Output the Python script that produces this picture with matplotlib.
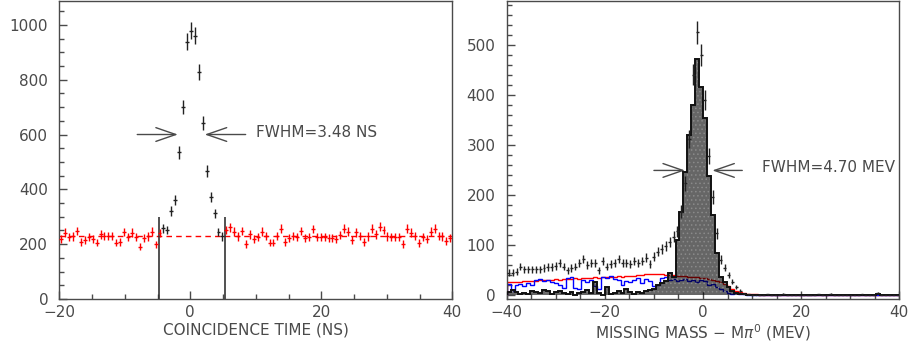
import numpy as np
import matplotlib
matplotlib.use('Agg')
from matplotlib import pyplot as plt
from matplotlib.ticker import MultipleLocator

# ---- left panel: coincidence time, 100 bins of 0.6 ns ----
time_range = (-20.0, 40.0)
time_nbins = 100
# red (accidental) points left of the timing window, bins 0..25
time_red_left = [218, 242, 225, 228, 248, 207, 216, 225, 218, 206,
                 236, 230, 230, 230, 206, 209, 245, 225, 242, 225,
                 191, 222, 228, 246, 199, 241]
# black points inside the window, bins 26..41
time_peak = [258, 252, 321, 362, 535, 701, 938, 979, 961, 828,
             641, 468, 372, 312, 244, 228]
# red points right of the window, bins 42..99
time_red_right = [252, 261, 246, 228, 248, 200, 236, 219, 225, 246,
                  231, 206, 206, 230, 256, 209, 222, 231, 227, 248,
                  222, 225, 255, 225, 225, 225, 222, 222, 219, 234,
                  256, 246, 216, 243, 231, 209, 228, 256, 236, 264,
                  252, 228, 225, 225, 225, 200, 256, 242, 231, 203,
                  225, 219, 246, 256, 230, 228, 213, 222]
time_bkg_level = 230
time_window = [-4.75, 5.35]
time_window_top = 300
time_fwhm_text = 'FWHM=3.48 NS'

# ---- right panel: missing mass, 100 bins of 0.8 MeV ----
mm_range = (-40.0, 40.0)
mm_nbins = 100
mm_data = [44, 44, 46, 56, 51, 51, 51, 51, 51, 53,
           55, 55, 57, 63, 56, 49, 53, 56, 63, 71,
           59, 64, 64, 49, 68, 56, 61, 64, 71, 64,
           64, 61, 68, 64, 68, 74, 62, 76, 86, 91,
           97, 106, 116, 127, 166, 223, 312, 441, 526, 480,
           391, 278, 195, 123, 70, 54, 39, 26, 16, 8,
           2, 1, 0, 0, 0, 0, 1, 0, 0, 0,
           2, 0, 0, 0, 0, 0, 0, 0, 0, 1,
           0, 0, 2, 0, 0, 0, 0, 0, 0, 0,
           1, 0, 0, 0, 3, 0, 0, 0, 0, 0]
mm_signal = [5, 9, 6, 2, 4, 2, 8, 6, 3, 9,
             7, 2, 5, 8, 3, 2, 6, 0, 3, 5,
             9, 3, 26, 4, 0, 15, 2, 3, 7, 4,
             11, 5, 2, 6, 4, 8, 9, 12, 20, 24,
             28, 44, 36, 110, 165, 245, 320, 380, 473, 416,
             354, 237, 160, 83, 36, 26, 16, 8, 4, 2,
             1, 0, 0, 0, 0, 0, 0, 0, 0, 0,
             0, 0, 0, 0, 0, 0, 0, 0, 0, 0,
             0, 0, 0, 0, 0, 0, 0, 0, 0, 0,
             0, 0, 0, 0, 2, 0, 0, 0, 0, 0]
mm_bkg_red = [25, 25, 26, 26, 27, 27, 28, 28, 29, 29,
              30, 30, 31, 30, 31, 32, 32, 33, 32, 33,
              34, 34, 35, 34, 35, 35, 36, 36, 37, 36,
              37, 38, 38, 39, 40, 41, 42, 42, 41, 41,
              40, 40, 39, 38, 37, 37, 36, 36, 35, 34,
              33, 32, 30, 28, 25, 21, 17, 12, 8, 5,
              3, 2, 1, 1, 0, 0, 0, 0, 0, 0,
              0, 0, 0, 0, 0, 0, 0, 0, 0, 0,
              0, 0, 0, 0, 0, 0, 0, 0, 0, 0,
              0, 0, 0, 0, 0, 0, 0, 0, 0, 0]
mm_bkg_blue = [22, 8, 20, 22, 18, 24, 20, 30, 32, 28,
               30, 26, 24, 20, 14, 34, 35, 14, 12, 30,
               26, 30, 18, 12, 36, 34, 38, 32, 30, 20,
               28, 26, 30, 34, 24, 32, 28, 18, 20, 34,
               36, 30, 32, 28, 30, 32, 28, 30, 26, 30,
               28, 20, 22, 16, 12, 8, 4, 2, 3, 1,
               1, 0, 0, 0, 0, 0, 0, 0, 0, 0,
               0, 0, 0, 0, 0, 0, 0, 0, 0, 0,
               0, 0, 0, 0, 0, 0, 0, 0, 0, 0,
               0, 0, 0, 0, 0, 0, 0, 0, 0, 0]
mm_fwhm_text = 'FWHM=4.70 MEV'

GREY = '#4a4a4a'
plt.rcParams['font.family'] = 'DejaVu Sans'
plt.rcParams['font.size'] = 11
plt.rcParams['text.color'] = GREY
plt.rcParams['axes.edgecolor'] = GREY
plt.rcParams['axes.labelcolor'] = GREY
plt.rcParams['xtick.color'] = GREY
plt.rcParams['ytick.color'] = GREY
plt.rcParams['hatch.color'] = '#8a8a8a'
plt.rcParams['hatch.linewidth'] = 0.6


def style_axes(ax, xmaj, xmin, ymaj, ymin):
    ax.xaxis.set_major_locator(MultipleLocator(xmaj))
    ax.xaxis.set_minor_locator(MultipleLocator(xmin))
    ax.yaxis.set_major_locator(MultipleLocator(ymaj))
    ax.yaxis.set_minor_locator(MultipleLocator(ymin))
    ax.tick_params(which='both', direction='in', top=False, right=False, width=1)
    ax.tick_params(which='major', length=6)
    ax.tick_params(which='minor', length=3.5)
    ax.tick_params(axis='x', pad=4)
    ax.tick_params(axis='y', pad=8)
    for sp in ax.spines.values():
        sp.set_linewidth(1)


def crosses(ax, x, y, half, color):
    y = np.asarray(y, dtype=float)
    ax.errorbar(x, y, xerr=half, yerr=np.sqrt(y), fmt='none',
                ecolor=color, elinewidth=1, capsize=0, zorder=5)


def fwhm_arrows(ax, y, left, right):
    kw = dict(arrowstyle='->,head_length=1.3,head_width=0.45', color=GREY,
              lw=1, shrinkA=0, shrinkB=0)
    ax.annotate('', xy=(left[1], y), xytext=(left[0], y), arrowprops=kw)
    ax.annotate('', xy=(right[1], y), xytext=(right[0], y), arrowprops=kw)


fig = plt.figure(figsize=(9.08, 3.44), dpi=100)

# ----- left panel -----
ax1 = fig.add_axes([59.3 / 908, 45 / 344, 393 / 908, 298 / 344])
t_edges = np.linspace(time_range[0], time_range[1], time_nbins + 1)
t_centers = 0.5 * (t_edges[1:] + t_edges[:-1])
n_left = len(time_red_left)
n_peak = len(time_peak)
crosses(ax1, t_centers[:n_left], time_red_left, 0.3, 'red')
crosses(ax1, t_centers[n_left:n_left + n_peak], time_peak, 0.3, '#222222')
crosses(ax1, t_centers[n_left + n_peak:], time_red_right, 0.3, 'red')
ax1.axhline(time_bkg_level, color='red', lw=1, ls=(0, (4, 3)))
ax1.vlines(time_window, 0, time_window_top, color='#333333', lw=1.2)
fwhm_arrows(ax1, 600, (-8.1, -1.9), (8.45, 2.2))
ax1.text(10.0, 607, time_fwhm_text, ha='left', va='center')
ax1.set_xlim(*time_range)
ax1.set_ylim(0, 1087)
style_axes(ax1, 20, 5, 200, 50)
ax1.set_xlabel('COINCIDENCE TIME (NS)', labelpad=2)

# ----- right panel -----
ax2 = fig.add_axes([506.7 / 908, 45 / 344, 392.6 / 908, 298 / 344])
m_edges = np.linspace(mm_range[0], mm_range[1], mm_nbins + 1)
m_centers = 0.5 * (m_edges[1:] + m_edges[:-1])
ax2.stairs(mm_bkg_red, m_edges, color='red', lw=1, zorder=2)
ax2.stairs(mm_bkg_blue, m_edges, color='blue', lw=1, zorder=2)
ax2.stairs(mm_signal, m_edges, fill=True, facecolor=(0, 0, 0, 0.6),
           edgecolor='#8a8a8a', hatch='....', lw=0, zorder=3)
ax2.stairs(mm_signal, m_edges, color='#111111', lw=1.4, zorder=4)
crosses(ax2, m_centers, mm_data, 0.3, '#222222')
fwhm_arrows(ax2, 249, (-10.0, -3.67), (8.0, 1.9))
ax2.text(12.1, 255, mm_fwhm_text, ha='left', va='center')
ax2.set_xlim(*mm_range)
ax2.set_ylim(-9, 589)
style_axes(ax2, 20, 5, 100, 20)
ax2.set_xlabel('MISSING MASS \u2212 M$\\pi^{0}$ (MEV)', labelpad=2)

fig.savefig('out.png', dpi=100)
